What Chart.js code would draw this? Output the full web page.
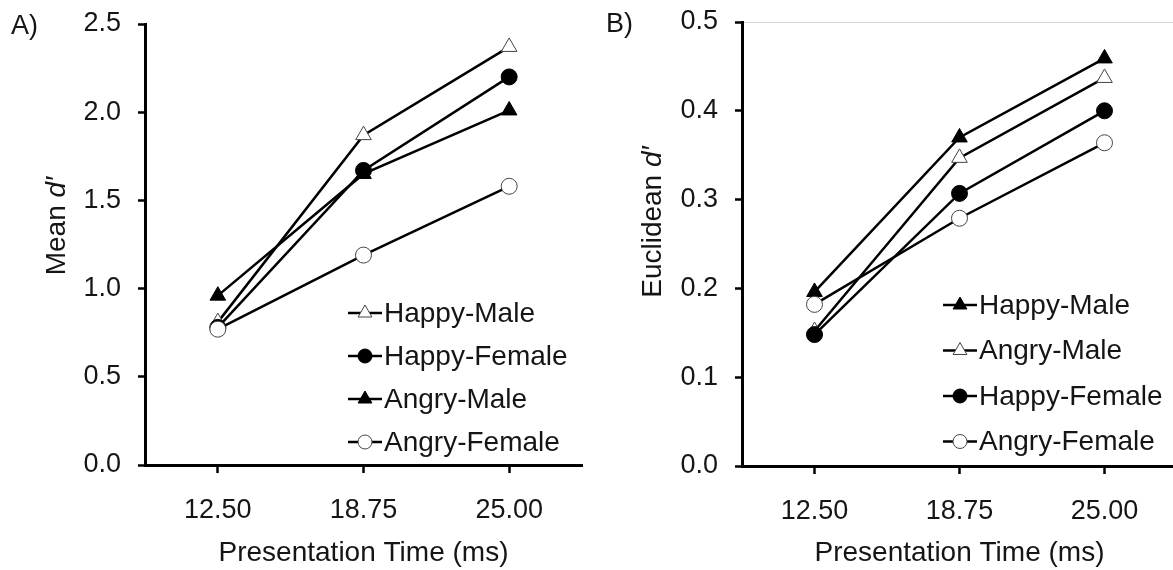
<!DOCTYPE html>
<html>
<head>
<meta charset="utf-8">
<script src="https://cdn.jsdelivr.net/npm/chart.js@4.4.1/dist/chart.umd.min.js"></script>
<style>
    html, body { margin: 0; padding: 0; background: #fff; overflow: hidden; }
    #wrap { position: relative; width: 1173px; height: 570px; overflow: hidden; }
    canvas { position: absolute; top: 0; }
    #chart-a { left: 0; }
    #chart-b { left: 590px; }
</style>
</head>
<body>
<div id="wrap">
    <canvas id="chart-a" width="590" height="570"></canvas>
    <canvas id="chart-b" width="597" height="570"></canvas>
</div>
<script>
const presentationTimes = ['12.50', '18.75', '25.00'];

// Panel A - mean d'
const meanHappyMale = [0.81, 1.87, 2.37];
const meanHappyFemale = [0.78, 1.67, 2.20];
const meanAngryMale = [0.96, 1.65, 2.01];
const meanAngryFemale = [0.77, 1.19, 1.58];
const meanTicks = [0, 0.5, 1.0, 1.5, 2.0, 2.5];

// Panel B - euclidean d'
const eucHappyMale = [0.196, 0.370, 0.459];
const eucAngryMale = [0.152, 0.347, 0.437];
const eucHappyFemale = [0.148, 0.307, 0.400];
const eucAngryFemale = [0.182, 0.279, 0.364];
const eucTicks = [0, 0.1, 0.2, 0.3, 0.4, 0.5];

const FONT = '"Liberation Sans", Arial, sans-serif';
const TEXT = '#151515';

const markers = {
    openTriangle:   { pointStyle: 'triangle', pointRadius: 9, pointBackgroundColor: '#fff', pointBorderColor: '#444', pointBorderWidth: 1 },
    filledTriangle: { pointStyle: 'triangle', pointRadius: 9, pointBackgroundColor: '#000', pointBorderColor: '#000', pointBorderWidth: 1 },
    filledCircle:   { pointStyle: 'circle', pointRadius: 8, pointBackgroundColor: '#000', pointBorderColor: '#000', pointBorderWidth: 1 },
    openCircle:     { pointStyle: 'circle', pointRadius: 8, pointBackgroundColor: '#fff', pointBorderColor: '#444', pointBorderWidth: 1 }
};

function series(label, data, marker, order) {
    return {
        label: label,
        data: data,
        borderColor: '#000',
        borderWidth: 2.5,
        fill: false,
        tension: 0,
        order: order,
        clip: false,
        ...markers[marker]
    };
}

// Panel letter, y title with italic d', faint top rule and the line+marker legend
const panelDecor = {
    id: 'panelDecor',
    beforeDatasetsDraw(chart, args, opts) {
        if (!opts.topRule) return;
        const ctx = chart.ctx;
        const area = chart.chartArea;
        ctx.save();
        ctx.beginPath();
        ctx.moveTo(area.left + 2, area.top + 0.5);
        ctx.lineTo(chart.width, area.top + 0.5);
        ctx.lineWidth = 1;
        ctx.strokeStyle = '#d6d6d6';
        ctx.stroke();
        ctx.restore();
    },
    afterDraw(chart, args, opts) {
        const ctx = chart.ctx;
        ctx.save();
        ctx.fillStyle = TEXT;
        ctx.textBaseline = 'middle';
        ctx.textAlign = 'left';

        ctx.font = '27px ' + FONT;
        ctx.fillText(opts.letter, opts.letterX, opts.letterY);

        // y title
        const normal = '28px ' + FONT;
        const italic = 'italic 28px ' + FONT;
        ctx.font = normal;
        const w1 = ctx.measureText(opts.yTitle).width;
        ctx.font = italic;
        const w2 = ctx.measureText('d\u2032').width;
        ctx.translate(opts.yTitleX, opts.yTitleY);
        ctx.rotate(-Math.PI / 2);
        ctx.font = normal;
        ctx.fillText(opts.yTitle, -(w1 + w2) / 2, 0);
        ctx.font = italic;
        ctx.fillText('d\u2032', -(w1 + w2) / 2 + w1, 0);
        ctx.setTransform(1, 0, 0, 1, 0, 0);

        // legend
        chart.data.datasets.forEach((ds, i) => {
            const y = opts.legendY + i * opts.legendGap;
            const x0 = opts.legendX;
            ctx.beginPath();
            ctx.moveTo(x0, y);
            ctx.lineTo(x0 + 34, y);
            ctx.lineWidth = 2.5;
            ctx.strokeStyle = '#000';
            ctx.stroke();

            ctx.fillStyle = ds.pointBackgroundColor;
            ctx.strokeStyle = ds.pointBorderColor;
            ctx.lineWidth = ds.pointBorderWidth;
            Chart.helpers.drawPoint(ctx, {
                pointStyle: ds.pointStyle,
                radius: ds.pointRadius - 1,
                rotation: 0,
                borderWidth: ds.pointBorderWidth
            }, x0 + 17, y);

            ctx.fillStyle = TEXT;
            ctx.font = '28px ' + FONT;
            ctx.fillText(ds.label, x0 + 36, y + 1);
        });
        ctx.restore();
    }
};

function makeChart(id, datasets, yMax, yTicks, frame, decor) {
    return new Chart(document.getElementById(id), {
        type: 'line',
        data: { labels: presentationTimes, datasets: datasets },
        options: {
            responsive: false,
            animation: false,
            devicePixelRatio: 1,
            layout: {
                autoPadding: false,
                padding: { left: 0, top: frame.top, right: frame.right, bottom: 0 }
            },
            plugins: {
                legend: { display: false },
                tooltip: { enabled: false },
                panelDecor: decor
            },
            scales: {
                x: {
                    offset: true,
                    grid: {
                        offset: false,
                        drawOnChartArea: false,
                        tickLength: 8,
                        tickWidth: 2.5,
                        tickColor: '#000'
                    },
                    border: { color: '#000', width: 3 },
                    ticks: { color: TEXT, font: { size: 27, family: FONT }, padding: 21 },
                    title: {
                        display: true,
                        text: 'Presentation Time (ms)',
                        color: TEXT,
                        font: { size: 28, family: FONT },
                        padding: 0
                    },
                    afterFit: (axis) => {
                        axis.height = frame.xHeight;
                        axis.paddingLeft = 0;
                        axis.paddingRight = 0;
                    }
                },
                y: {
                    min: 0,
                    max: yMax,
                    afterBuildTicks: (axis) => { axis.ticks = yTicks.map(v => ({ value: v })); },
                    grid: {
                        drawOnChartArea: false,
                        tickLength: 7,
                        tickWidth: 2.5,
                        tickColor: '#000'
                    },
                    border: { color: '#000', width: 3 },
                    ticks: {
                        color: TEXT,
                        font: { size: 27, family: FONT },
                        padding: 17,
                        callback: (v) => Number(v).toFixed(1)
                    },
                    afterFit: (axis) => {
                        axis.width = frame.yWidth;
                        axis.paddingTop = 0;
                        axis.paddingBottom = 0;
                    }
                }
            }
        },
        plugins: [panelDecor]
    });
}

makeChart('chart-a', [
    series('Happy-Male', meanHappyMale, 'openTriangle', 3),
    series('Happy-Female', meanHappyFemale, 'filledCircle', 2),
    series('Angry-Male', meanAngryMale, 'filledTriangle', 1),
    series('Angry-Female', meanAngryFemale, 'openCircle', 0)
], 2.5, meanTicks,
    { top: 24, right: 8, xHeight: 105, yWidth: 145 },
    { letter: 'A)', letterX: 11, letterY: 27, yTitle: 'Mean ', yTitleX: 57, yTitleY: 226,
      legendX: 348, legendY: 313, legendGap: 43, topRule: false });

// canvas B runs a little past the window edge, as the axis does in the original
makeChart('chart-b', [
    series('Happy-Male', eucHappyMale, 'filledTriangle', 3),
    series('Angry-Male', eucAngryMale, 'openTriangle', 2),
    series('Happy-Female', eucHappyFemale, 'filledCircle', 1),
    series('Angry-Female', eucAngryFemale, 'openCircle', 0)
], 0.5, eucTicks,
    { top: 22, right: 10, xHeight: 104, yWidth: 152 },
    { letter: 'B)', letterX: 16, letterY: 25, yTitle: 'Euclidean ', yTitleX: 63, yTitleY: 222,
      legendX: 353, legendY: 305, legendGap: 45.5, topRule: true });
</script>
</body>
</html>
